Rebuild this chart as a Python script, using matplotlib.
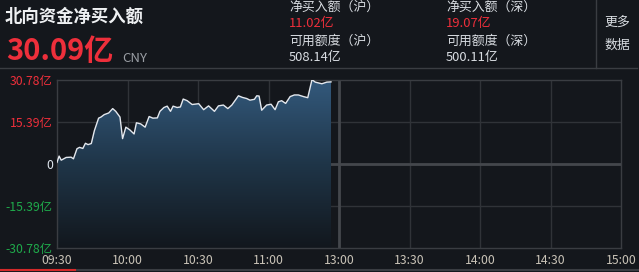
import matplotlib.pyplot as plt
import numpy as np
from matplotlib.colors import LinearSegmentedColormap

plt.rcParams['font.family'] = ['Noto Sans CJK SC', 'DejaVu Sans']

# 交易分钟（从09:30起，午休后接13:00）及北向资金净买入额（亿）
minutos = [0, 0.9, 1.8, 3.9, 6, 7, 8.5, 9.6, 11, 12.1, 13.2, 14.6, 15.9, 17.7, 18.7,
           20.1, 22, 23.7, 25, 26.8, 27.9, 29.3, 31, 32.8, 33.8, 35.6, 37.5, 39.2,
           40.8, 42.7, 43.8, 45.5, 46.9, 48.3, 49.4, 51.1, 52.5, 53.7, 55.4, 57.5,
           60.3, 62.4, 64.5, 67, 68.7, 70.8, 72.7, 74.4, 77.2, 78.9, 80.7, 82.1,
           84, 85, 86, 87.1, 89.2, 91.1, 92.8, 94.2, 95.6, 97.3, 99.2, 101, 102.7,
           104.9, 106.7, 108.5, 109.9, 112.7, 114.8, 116.6]
valores = [0.6, 2.9, 1.4, 2.4, 2.5, 1.9, 5.6, 6.1, 5.7, 7.6, 7.1, 7.5, 12.2, 16.8, 17.2,
           18.1, 18.7, 20.3, 19.3, 17.2, 9.3, 13.5, 12.5, 11.0, 15.1, 14.7, 13.5, 17.4,
           16.8, 16.9, 19.3, 20.7, 21.2, 19.3, 21.2, 20.7, 20.9, 23.8, 23.2, 21.8,
           22.1, 19.9, 21.3, 19.3, 21.3, 21.6, 20.3, 21.6, 25.0, 24.4, 24.0, 23.4,
           23.7, 25.0, 24.9, 19.7, 21.6, 21.9, 19.9, 22.8, 23.2, 22.2, 24.7, 25.3,
           25.3, 24.7, 24.3, 30.9, 30.0, 29.4, 30.0, 30.09]

etiquetas_x = ['09:30', '10:00', '10:30', '11:00', '13:00', '13:30', '14:00', '14:30', '15:00']
ticks_x = [0, 30, 60, 90, 120, 150, 180, 210, 240]
ticks_y = [-30.78, -15.39, 0, 15.39, 30.78]
etiquetas_y = ['-30.78亿', '-15.39亿', '0', '15.39亿', '30.78亿']

titulo = '北向资金净买入额'
total = '30.09亿'
cabecera = [('净买入额（沪）', '11.02亿', '可用额度（沪）', '508.14亿'),
            ('净买入额（深）', '19.07亿', '可用额度（深）', '500.11亿')]

fondo = '#14171c'
rojo = '#ee2f3b'
verde = '#1faa4b'
rejilla = '#303338'

W, H = 639, 272
fig = plt.figure(figsize=(W / 100, H / 100), dpi=100)
fig.patch.set_facecolor(fondo)

def px(x, y):
    return x / W, 1 - y / H

# cabecera
fig.text(*px(5, 17), titulo, color='#eef0f2', fontsize=12.5, fontweight='bold', va='center')
fig.text(*px(6, 51), total, color=rojo, fontsize=21, fontweight='bold', va='center')
fig.text(*px(122, 58), 'CNY', color='#9a9ea4', fontsize=9.5, va='center')
for i, (l1, v1, l2, v2) in enumerate(cabecera):
    x0 = [289, 446][i]
    fig.text(*px(x0, 7), l1, color='#d9dde2', fontsize=9.3, va='center')
    fig.text(*px(x0, 24), v1, color=rojo, fontsize=9.3, va='center')
    fig.text(*px(x0, 41), l2, color='#d9dde2', fontsize=9.3, va='center')
    fig.text(*px(x0, 58), v2, color='#d9dde2', fontsize=9.3, va='center')
fig.text(*px(604, 22), '更多', color='#d9dde2', fontsize=9.3, va='center')
fig.text(*px(604, 45), '数据', color='#d9dde2', fontsize=9.3, va='center')
fig.add_artist(plt.Line2D([596 / W, 596 / W], [1, 1 - 68 / H], color='#3a3d42', lw=1))
fig.add_artist(plt.Line2D([0, 637 / W], [1 - 68 / H] * 2, color='#3a3d42', lw=1))
fig.add_artist(plt.Line2D([0, 1], [1 - 270 / H] * 2, color='#3a3d42', lw=1.5))
fig.add_artist(plt.Line2D([0, 75 / W], [1 - 270 / H] * 2, color='#d42a2a', lw=1.5))

# gráfico
ax = fig.add_axes([57 / W, 24 / H, 564 / W, 168 / H])
ax.set_facecolor(fondo)
ax.set_xlim(0, 240)
ax.set_ylim(-30.78, 30.78)

for t in ticks_x[1:-1]:
    ax.axvline(t, color=rejilla, lw=1, zorder=1)
for v in ticks_y[1:-1]:
    ax.axhline(v, color=rejilla, lw=1, zorder=1)
ax.axhline(0, color='#44474c', lw=2, zorder=1)
ax.axvline(120, color='#44474c', lw=2, zorder=1)

x = np.array(minutos)
y = np.array(valores)
relleno = ax.fill_between(x, y, -30.78, color='none', lw=0)
cmap = LinearSegmentedColormap.from_list('g', ['#12171d', '#1f3548', '#33597c'])
grad = np.linspace(0, 1, 256).reshape(-1, 1)
img = ax.imshow(grad, aspect='auto', cmap=cmap, origin='lower',
                extent=[0, 240, -30.78, 30.78], zorder=2)
img.set_clip_path(relleno.get_paths()[0], transform=ax.transData)
ax.plot(x, y, color='#e4e8ee', lw=1, zorder=3)

for s in ax.spines.values():
    s.set_color('#3a3d42')
    s.set_linewidth(1)

ax.set_xticks(ticks_x)
ax.set_xticklabels(etiquetas_x)
ax.set_yticks(ticks_y)
ax.set_yticklabels(etiquetas_y)
ax.tick_params(length=0, labelsize=8.8, pad=3)
ax.tick_params(axis='x', pad=4)
for lab in ax.get_xticklabels():
    lab.set_color('#c9c3b7')
for lab, v in zip(ax.get_yticklabels(), ticks_y):
    lab.set_color(rojo if v > 0 else (verde if v < 0 else '#dfe6ee'))

fig.savefig('out.png', dpi=100, facecolor=fondo)
